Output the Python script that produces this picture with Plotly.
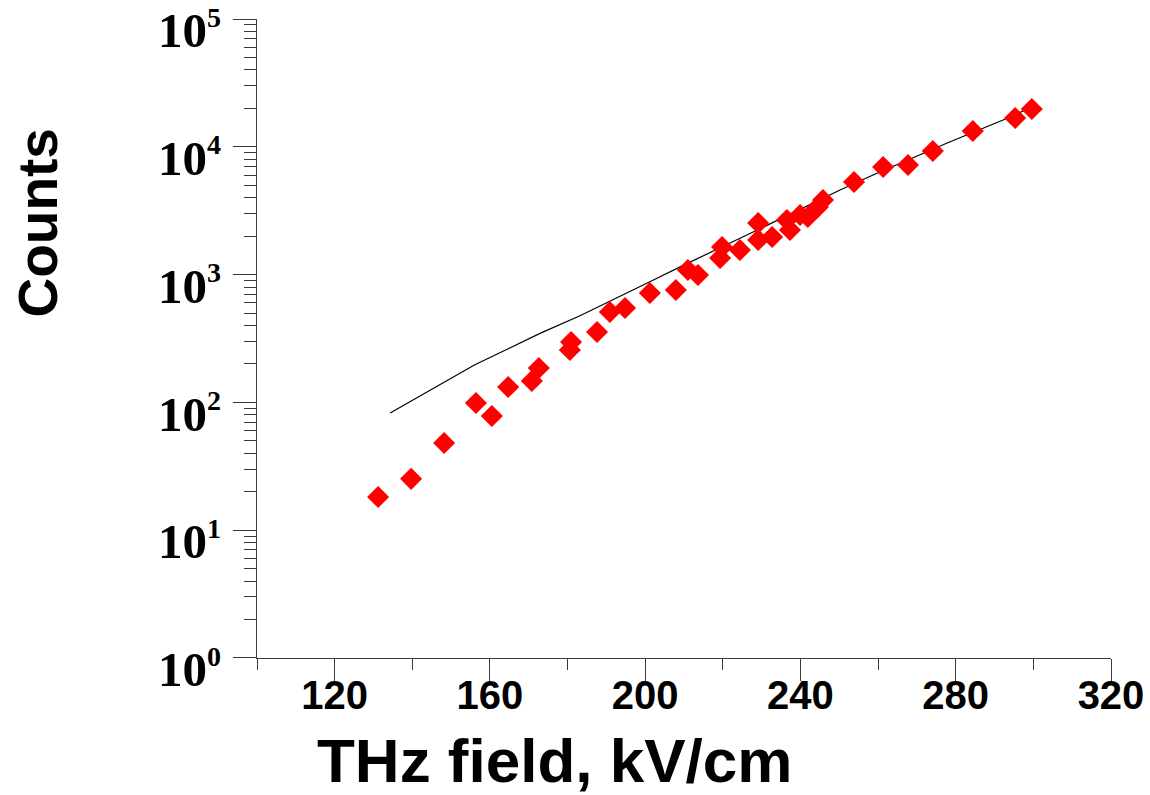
import plotly.graph_objects as go

# measured data (THz field kV/cm, counts)
field = [131.2, 139.7, 148.2, 156.4, 160.5, 164.7, 170.8, 172.6, 180.6, 180.9,
         187.6, 190.9, 194.8, 201.2, 207.9, 211.0, 213.6, 219.3, 219.8, 224.4,
         229.1, 229.1, 232.7, 236.5, 237.3, 239.9, 241.9, 244.5, 245.8, 253.8,
         261.3, 267.7, 274.1, 284.4, 295.3, 299.6]
counts = [18.2, 25.2, 48.1, 98.9, 78.3, 132, 147, 186, 257, 297,
          356, 510, 548, 718, 758, 1087, 993, 1349, 1644, 1557,
          2535, 1865, 1968, 2675, 2234, 2926, 2824, 3381, 3834, 5305,
          6950, 7204, 9269, 13291, 16805, 19757]

# fitted curve
fit_field = [134.3, 156.0, 172.9, 183.2, 201.2, 209.0, 227.8, 250.2, 258.7, 277.8, 292.2, 299.1]
fit_counts = [82.6, 196, 347, 477, 880, 1150, 2155, 4591, 6015, 10710, 16210, 20130]

x_ticks = [120, 160, 200, 240, 280, 320]
x_minor = [100, 140, 180, 220, 260, 300]
y_exps = [0, 1, 2, 3, 4, 5]

y_tickvals = [10 ** e for e in y_exps]
y_ticktext = [f'10<sup><span style="font-size:28px">{e}</span></sup>' for e in y_exps]
y_minor = [m * 10 ** e for e in y_exps[:-1] for m in range(2, 10)]

fig = go.Figure()
fig.add_trace(go.Scatter(x=fit_field, y=fit_counts, mode="lines",
                         line=dict(color="black", width=1.2), showlegend=False))
fig.add_trace(go.Scatter(x=field, y=counts, mode="markers",
                         marker=dict(symbol="diamond", color="#ff0000", size=17, line=dict(width=0)),
                         showlegend=False))

axis_col = "#3a3a3a"
fig.update_layout(
    width=1150, height=795,
    margin=dict(l=257, r=39, t=19, b=137, autoexpand=False),
    plot_bgcolor="white", paper_bgcolor="white",
    xaxis=dict(range=[100, 320], showgrid=False, zeroline=False, automargin=False,
               showline=True, linecolor=axis_col, linewidth=1.3,
               ticks="outside", ticklen=22, tickcolor=axis_col, tickwidth=1.3,
               tickvals=x_ticks, ticktext=[str(v) for v in x_ticks],
               tickfont=dict(family="Liberation Sans", size=40,
                             color="black", weight="bold"),
               ticklabelstandoff=-20,
               minor=dict(tickvals=x_minor, ticks="outside", ticklen=11,
                          tickcolor=axis_col, tickwidth=1.3)),
    yaxis=dict(type="log", range=[-0.0005, 5.0005], showgrid=False, zeroline=False, automargin=False,
               showline=True, linecolor=axis_col, linewidth=1.3,
               ticks="outside", ticklen=23, tickcolor=axis_col, tickwidth=1.3,
               tickvals=y_tickvals, ticktext=y_ticktext,
               tickfont=dict(family="Liberation Serif", size=49, color="black", weight="bold"),
               ticklabelshift=11, ticklabelstandoff=2,
               minor=dict(tickvals=y_minor, ticks="outside", ticklen=12,
                          tickcolor=axis_col, tickwidth=1.3)),
    annotations=[
        dict(text="THz field, kV/cm", xref="paper", yref="paper",
             x=(554 - 257) / 854, y=(658 - 760) / 639, xanchor="center", yanchor="middle",
             showarrow=False,
             font=dict(family="Liberation Sans", size=62, color="black", weight="bold")),
        dict(text="Counts", xref="paper", yref="paper", textangle=-90,
             x=(38 - 257) / 854, y=(658 - 223.5) / 639, xanchor="center", yanchor="middle",
             showarrow=False,
             font=dict(family="Liberation Sans", size=55, color="black", weight="bold")),
    ],
)

fig.write_html("out.html", config={"displayModeBar": False},
               post_script="document.body.style.margin='0';document.body.style.padding='0';")
